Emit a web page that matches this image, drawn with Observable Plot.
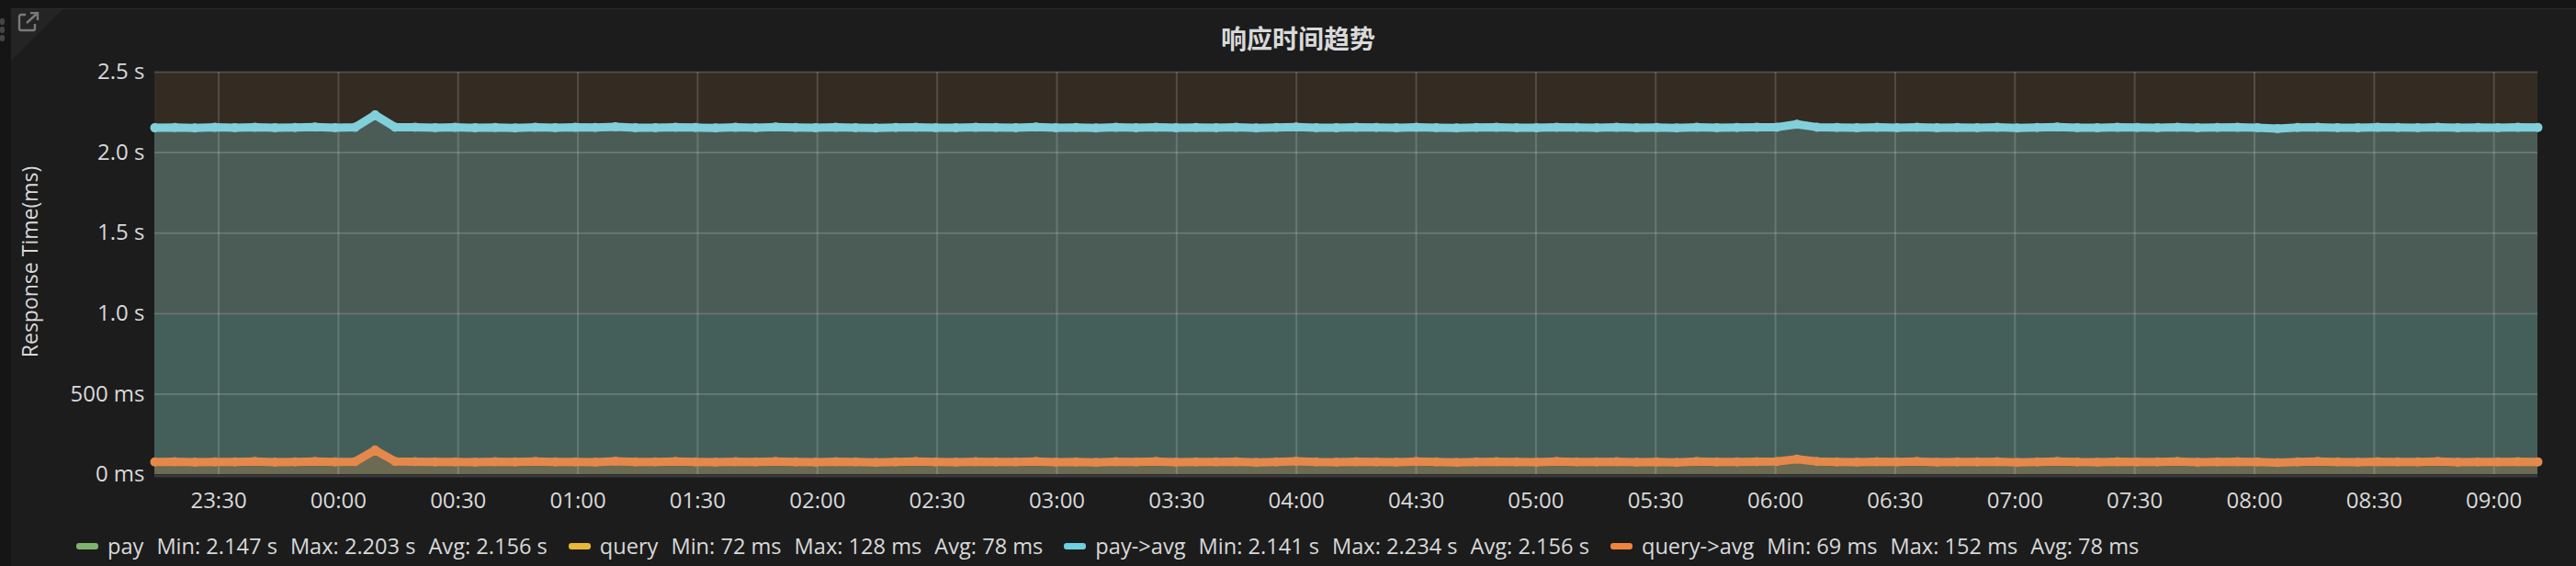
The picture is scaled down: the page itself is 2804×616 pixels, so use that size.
<!DOCTYPE html>
<html><head><meta charset="utf-8">
<script src="https://cdn.jsdelivr.net/npm/d3@7"></script>
<script src="https://cdn.jsdelivr.net/npm/@observablehq/plot@0.6"></script>
<style>
html,body{margin:0;padding:0;background:#151515;width:2804px;height:616px;overflow:hidden;font-family:"Open Sans",sans-serif;}
#panel{position:absolute;left:12px;top:9px;width:2792px;height:607px;background:#1c1c1c;border-top:1px solid #2a2a2a;}
#corner{position:absolute;left:12px;top:10px;width:0;height:0;border-top:56px solid #242424;border-right:56px solid transparent;}
#handle{position:absolute;left:0;top:20px;width:5px;}
#handle div{width:5px;height:7px;background:#444;border-radius:2px;margin-bottom:2px;}
#chart{position:absolute;left:0;top:0;}
#title{position:absolute;left:1413px;top:26px;transform:translateX(-50%);font:bold 28px "Noto Sans CJK SC",sans-serif;color:#d8d9da;line-height:30px;white-space:nowrap;}
#ylabel{position:absolute;left:32px;top:285px;transform:translate(-50%,-50%) rotate(-90deg);font-size:23px;color:#d8d9da;white-space:nowrap;}
#legend{position:absolute;left:83px;top:578px;display:flex;align-items:center;font-size:23.6px;color:#d8d9da;white-space:nowrap;line-height:32px;}
.item{display:flex;align-items:center;margin-right:23px;}
.sw{width:24px;height:7px;border-radius:3px;margin-right:10px;}
.st{margin-left:14px;}
</style></head>
<body>
<div id="panel"></div>
<div id="corner"></div>
<svg style="position:absolute;left:19px;top:13px" width="26" height="22" viewBox="0 0 26 22"><path d="M9 3H4a2 2 0 0 0-2 2v13a2 2 0 0 0 2 2h13a2 2 0 0 0 2-2v-5" fill="none" stroke="#7a7a7a" stroke-width="2.4"/><path d="M10 12L22 1M14 1h8v8" fill="none" stroke="#7a7a7a" stroke-width="2.4"/></svg>
<div id="handle"><div></div><div></div><div></div></div>
<div id="chart"></div>
<div id="title">响应时间趋势</div>
<div id="ylabel">Response Time(ms)</div>
<div id="legend"></div>
<script>
// ---- data ----
const startTime = Date.UTC(2019, 5, 10, 23, 14);
const endTime = Date.UTC(2019, 5, 11, 9, 11);

const xTickLabels = ["23:30","00:00","00:30","01:00","01:30","02:00","02:30","03:00","03:30","04:00","04:30","05:00","05:30","06:00","06:30","07:00","07:30","08:00","08:30","09:00"];
const yTicks = [0, 0.5, 1.0, 1.5, 2.0, 2.5];
const thresholds = [1.0];

// pay->avg, seconds
const payAvgValues = [
2.154,2.156,2.153,2.157,2.155,2.158,2.154,2.156,2.159,2.155,
2.157,2.234,2.158,2.158,2.155,2.157,2.154,2.156,2.153,2.158,
2.155,2.157,2.156,2.160,2.154,2.155,2.158,2.156,2.153,2.157,
2.155,2.159,2.156,2.154,2.157,2.155,2.153,2.156,2.158,2.155,
2.154,2.157,2.156,2.155,2.159,2.154,2.156,2.153,2.157,2.155,
2.158,2.154,2.156,2.155,2.157,2.153,2.156,2.159,2.155,2.154,
2.157,2.156,2.154,2.158,2.155,2.153,2.156,2.157,2.155,2.154,
2.158,2.156,2.155,2.157,2.154,2.156,2.153,2.158,2.155,2.156,
2.157,2.158,2.176,2.158,2.156,2.154,2.157,2.155,2.158,2.154,
2.156,2.155,2.157,2.153,2.156,2.159,2.155,2.154,2.157,2.156,
2.155,2.158,2.154,2.156,2.157,2.155,2.149,2.156,2.158,2.155,
2.154,2.157,2.156,2.155,2.158,2.154,2.156,2.155,2.157,2.156];
// query->avg, milliseconds
const queryAvgValues = [
78,80,77,79,78,81,77,79,82,78,
80,152,82,80,78,79,77,80,78,82,
78,79,77,83,78,79,81,78,77,80,
78,82,79,77,80,78,76,79,81,78,
77,80,79,78,82,77,79,76,80,78,
81,77,79,78,80,76,79,83,78,77,
80,79,77,81,78,76,79,80,78,77,
81,79,78,80,77,79,76,81,78,79,
80,81,96,81,79,77,80,78,81,77,
79,78,80,76,79,82,78,77,80,79,
78,81,77,79,80,78,74,79,81,78,
77,80,79,78,81,77,79,78,80,79];
// pay, seconds (hidden under pay->avg)
const payValues = [
2.155,2.157,2.154,2.156,2.158,2.203,2.160,2.155,2.157,2.154,
2.156,2.158,2.155,2.157,2.154,2.156,2.155,2.158,2.154,2.157,
2.155,2.156,2.158,2.154,2.156,2.155,2.157,2.154,2.156,2.158,
2.155,2.157,2.154,2.156,2.155,2.158,2.154,2.156,2.157,2.155,
2.178,2.157,2.154,2.156,2.158,2.155,2.157,2.154,2.156,2.155,
2.147,2.157,2.155,2.156,2.154,2.158,2.155,2.157,2.156,2.155];
// query, milliseconds (hidden under query->avg)
const queryValues = [
78,80,77,79,81,128,84,78,79,77,
80,78,82,77,79,78,80,77,81,78,
79,77,80,78,82,78,79,77,80,78,
81,77,79,78,80,77,79,81,78,77,
102,79,78,80,77,79,78,81,77,80,
72,79,78,80,77,81,78,79,77,78];

const legendNames = ["pay","query","pay->avg","query->avg"];
const legendColors = ["#7eb26d","#eab839","#6ed0e0","#ef843c"];
const legendMin = ["2.147 s","72 ms","2.141 s","69 ms"];
const legendMax = ["2.203 s","128 ms","2.234 s","152 ms"];
const legendAvg = ["2.156 s","78 ms","2.156 s","78 ms"];

// ---- build ----
const timesFor = n => d3.range(n).map(i => new Date(startTime + i * (endTime - startTime) / (n - 1)));
const toRows = (vals, scale) => { const t = timesFor(vals.length); return vals.map((v, i) => ({t: t[i], v: v * scale})); };
const payAvg = toRows(payAvgValues, 1);
const queryAvg = toRows(queryAvgValues, 0.001);
const pay = toRows(payValues, 1);
const query = toRows(queryValues, 0.001);
const xTicks = xTickLabels.map(s => { const [h, m] = s.split(":").map(Number); return new Date(Date.UTC(2019, 5, h >= 12 ? 10 : 11, h, m)); });
const yFmt = v => v === 0 ? "0 ms" : v < 1 ? `${Math.round(v * 1000)} ms` : `${v.toFixed(1)} s`;
const thr = thresholds.map(f => ({from: f, to: yTicks[yTicks.length - 1]}));

const gridStyle = {stroke: "#ffffff", strokeOpacity: 0.16, strokeWidth: 2};
const chart = Plot.plot({
  width: 2804, height: 570,
  marginLeft: 168, marginRight: 42, marginTop: 78, marginBottom: 54,
  x: {type: "utc", domain: [new Date(startTime), new Date(endTime)]},
  y: {domain: [0, 2.5]},
  style: {background: "transparent", color: "#d8d9da", fontFamily: "'Open Sans', sans-serif", fontSize: "24px", overflow: "visible"},
  marks: [
    Plot.rect(thr, {y1: "from", y2: "to", fill: "#342b22"}),
    Plot.areaY(payAvg, {x: "t", y1: thresholds[0], y2: "v", fill: "#4b5c57"}),
    Plot.areaY(payAvg, {x: "t", y1: 0, y2: thresholds[0], fill: "#445f5a"}),
    Plot.areaY(queryAvg, {x: "t", y1: 0, y2: "v", fill: "#6b6a52"}),
    Plot.gridX(xTicks, gridStyle),
    Plot.gridY(yTicks.filter(d => d > 0), gridStyle),
    Plot.ruleY([0], {stroke: "#3a3a3a", strokeWidth: 3, dy: 1.5}),
    Plot.line(pay, {x: "t", y: "v", stroke: "#7eb26d", strokeWidth: 2, strokeOpacity: 0}),
    Plot.line(query, {x: "t", y: "v", stroke: "#eab839", strokeWidth: 2, strokeOpacity: 0}),
    Plot.line(payAvg, {x: "t", y: "v", stroke: "#81cfdb", strokeWidth: 9, strokeLinejoin: "round", strokeLinecap: "round"}),
    Plot.dot(payAvg, {x: "t", y: "v", r: 5, fill: "#81cfdb"}),
    Plot.line(queryAvg, {x: "t", y: "v", stroke: "#e5884b", strokeWidth: 9, strokeLinejoin: "round", strokeLinecap: "round"}),
    Plot.dot(queryAvg, {x: "t", y: "v", r: 5, fill: "#e5884b"}),
    Plot.axisX(xTicks, {tickSize: 0, tickPadding: 19, tickFormat: d3.utcFormat("%H:%M"), label: null}),
    Plot.axisY(yTicks, {tickSize: 0, tickPadding: 11, tickFormat: yFmt, label: null})
  ]
});
document.getElementById("chart").appendChild(chart);

const legend = document.getElementById("legend");
legendNames.forEach((n, i) => {
  const it = document.createElement("div");
  it.className = "item";
  it.innerHTML = `<div class="sw" style="background:${legendColors[i]}"></div><span class="nm"></span><span class="st">Min: ${legendMin[i]}</span><span class="st">Max: ${legendMax[i]}</span><span class="st">Avg: ${legendAvg[i]}</span>`;
  it.querySelector(".nm").textContent = n;
  legend.appendChild(it);
});
</script>
</body></html>
